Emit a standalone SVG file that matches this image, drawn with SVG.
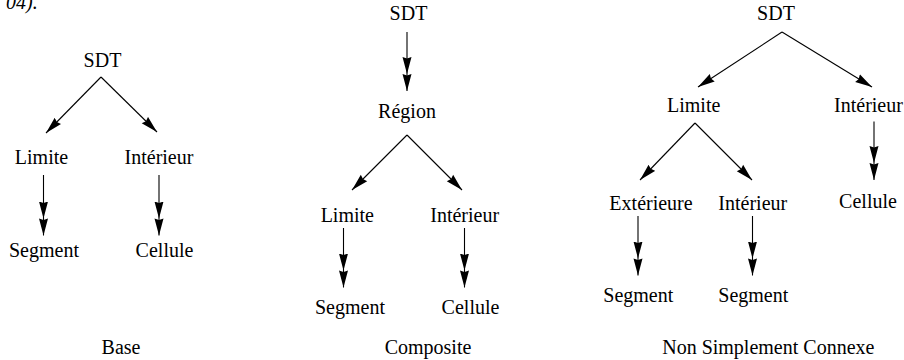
<svg xmlns="http://www.w3.org/2000/svg" width="904" height="360" viewBox="0 0 904 360" font-family="'Liberation Serif', 'DejaVu Serif', serif">
<style>
text{font-family:'Liberation Serif','DejaVu Serif',serif;font-size:20px;fill:#000;text-anchor:middle}
.c line{stroke:#000;stroke-width:1.1}
.d{marker-end:url(#h1)}
.v{marker-end:url(#h2)}
</style>
<defs>
<marker id="h1" markerUnits="userSpaceOnUse" markerWidth="18" markerHeight="11" viewBox="0 0 18 11" refX="17" refY="5" orient="auto">
<path d="M0,0.5 L17,5 L0,9.5 L1.5,5 z" fill="#000"/>
</marker>
<marker id="h2" markerUnits="userSpaceOnUse" markerWidth="35" markerHeight="11" viewBox="0 0 35 11" refX="34" refY="5" orient="auto">
<path d="M0,0.5 L17,5 L0,9.5 L1.5,5 z M17,0.5 L34,5 L17,9.5 L18.5,5 z" fill="#000"/>
</marker>
</defs>
<rect width="904" height="360" fill="#fff"/>
<text x="6" y="8.5" style="font-style:italic;text-anchor:start">04).</text>

<g id="base-sdt"><text x="102.5" y="67">SDT</text></g>
<g id="base-limite"><text x="41.5" y="164">Limite</text></g>
<g id="base-interieur"><text x="159" y="164">Intérieur</text></g>
<g id="base-segment"><text x="44" y="257">Segment</text></g>
<g id="base-cellule"><text x="164.5" y="257">Cellule</text></g>
<g id="base-label"><text x="121" y="354">Base</text></g>

<g id="comp-sdt"><text x="408.5" y="20">SDT</text></g>
<g id="comp-region"><text x="407" y="118">Région</text></g>
<g id="comp-limite"><text x="347.3" y="222">Limite</text></g>
<g id="comp-interieur"><text x="464.7" y="222">Intérieur</text></g>
<g id="comp-segment"><text x="350" y="314">Segment</text></g>
<g id="comp-cellule"><text x="470.5" y="314">Cellule</text></g>
<g id="comp-label"><text x="428" y="354">Composite</text></g>

<g id="nsc-sdt"><text x="776" y="19.5">SDT</text></g>
<g id="nsc-limite"><text x="693.7" y="112">Limite</text></g>
<g id="nsc-interieur"><text x="868.5" y="112">Intérieur</text></g>
<g id="nsc-cellule"><text x="868" y="208">Cellule</text></g>
<g id="nsc-exterieure"><text x="651" y="210">Extérieure</text></g>
<g id="nsc-interieur2"><text x="752.8" y="210">Intérieur</text></g>
<g id="nsc-segment1"><text x="638.3" y="302">Segment</text></g>
<g id="nsc-segment2"><text x="753.3" y="302">Segment</text></g>
<g id="nsc-label"><text x="768.3" y="354">Non Simplement Connexe</text></g>

<g id="connectors" class="c">
<line class="d" x1="101" y1="77" x2="46" y2="133"/>
<line class="d" x1="101" y1="77" x2="157" y2="132"/>
<line class="v" x1="43.5" y1="175" x2="43.5" y2="235.5"/>
<line class="v" x1="159" y1="175" x2="159" y2="235.5"/>

<line class="v" x1="407" y1="32" x2="407" y2="91"/>
<line class="d" x1="407" y1="135" x2="352" y2="190"/>
<line class="d" x1="407" y1="135" x2="462" y2="190"/>
<line class="v" x1="343.5" y1="228" x2="343.5" y2="287.5"/>
<line class="v" x1="464.5" y1="228" x2="464.5" y2="287.5"/>

<line class="d" x1="782" y1="32" x2="698" y2="87"/>
<line class="d" x1="782" y1="32" x2="872" y2="87"/>
<line class="v" x1="874" y1="121.5" x2="874" y2="180"/>
<line class="d" x1="695" y1="123" x2="640" y2="180"/>
<line class="d" x1="695" y1="123" x2="752" y2="180"/>
<line class="v" x1="638" y1="216" x2="638" y2="275.5"/>
<line class="v" x1="752.5" y1="216" x2="752.5" y2="275.5"/>
</g>
</svg>
